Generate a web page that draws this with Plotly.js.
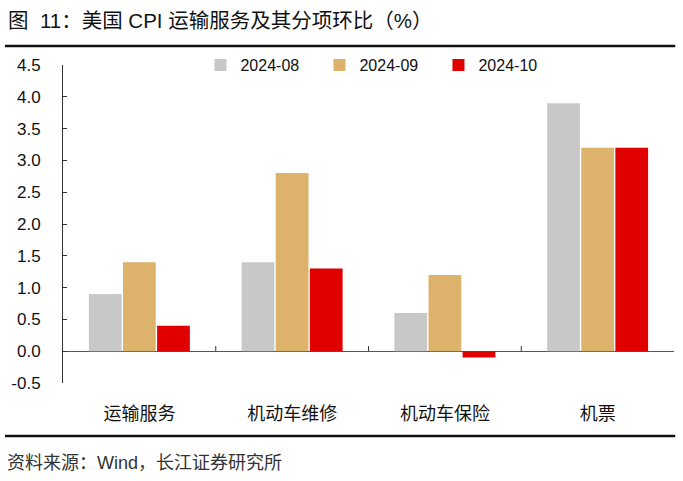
<!DOCTYPE html>
<html>
<head>
<meta charset="utf-8">
<script src="https://cdn.plot.ly/plotly-3.0.1.min.js"></script>
<style>html,body{margin:0;padding:0;background:#fff;}#chart{width:683px;height:481px;}</style>
</head>
<body>
<div id="chart"></div>
<script>
const categories = ['运输服务', '机动车维修', '机动车保险', '机票'];
const seriesNames = ['2024-08', '2024-09', '2024-10'];
const aug = [0.9, 1.4, 0.6, 3.9];
const sep = [1.4, 2.8, 1.2, 3.2];
const oct = [0.4, 1.3, -0.1, 3.2];
const yTicks = [-0.5, 0.0, 0.5, 1.0, 1.5, 2.0, 2.5, 3.0, 3.5, 4.0, 4.5];
const colors = ['#C8C8C8', '#DDB36B', '#E00000'];

const FONT = 'Liberation Sans, Arial, "Noto Sans CJK SC", sans-serif';
const CJK = '"Noto Sans CJK SC", sans-serif';

const traces = [aug, sep, oct].map((v, i) => ({
  type: 'bar', name: seriesNames[i], x: categories, y: v,
  marker: {color: colors[i]}
}));

const boundaryTicks = [0.5, 1.5, 2.5].map(b => ({
  type: 'line', xref: 'x', yref: 'y', x0: b, x1: b, y0: 0, y1: 0.08,
  line: {color: '#333', width: 1}
}));

const layout = {
  width: 683, height: 481,
  margin: {l: 63, r: 9, t: 65, b: 98, autoexpand: false},
  paper_bgcolor: '#fff', plot_bgcolor: '#fff',
  font: {family: FONT, size: 16, color: '#111'},
  barmode: 'group', bargap: 0.33, bargroupgap: 0.04,
  showlegend: true,
  legend: {orientation: 'h', x: 0.225, xanchor: 'left', y: 1.0, yanchor: 'middle',
           font: {family: FONT, size: 16, color: '#111'}, itemwidth: 30,
           entrywidth: 74, bgcolor: 'rgba(0,0,0,0)'},
  xaxis: {type: 'category', showgrid: false, showline: false, zeroline: false,
          ticks: '', tickfont: {family: CJK, size: 18, color: '#111'},
          ticklabelstandoff: 18, fixedrange: true},
  yaxis: {range: [-0.5, 4.5], tickvals: yTicks, ticktext: yTicks.map(v => v.toFixed(1)),
          showgrid: false, showline: true, linecolor: '#333', linewidth: 1,
          ticks: 'inside', ticklen: 4, tickcolor: '#333',
          zeroline: true, zerolinecolor: '#555', zerolinewidth: 1,
          tickfont: {family: FONT, size: 17, color: '#111'}, ticklabelstandoff: 18},
  shapes: [
    {type: 'line', xref: 'paper', yref: 'paper', x0: -0.095, x1: 1.002, y0: 1.06, y1: 1.06,
     line: {color: '#111', width: 2.5}},
    {type: 'line', xref: 'paper', yref: 'paper', x0: -0.095, x1: 1.002, y0: -0.167, y1: -0.167,
     line: {color: '#111', width: 2.5}},
    ...boundaryTicks
  ],
  annotations: [
    {xref: 'paper', yref: 'paper', x: -0.093, y: 1.14, xanchor: 'left', yanchor: 'middle',
     text: '图  11：美国 CPI 运输服务及其分项环比（%）', showarrow: false,
     font: {family: FONT, size: 20.5, color: '#111'}},
    {xref: 'paper', yref: 'paper', x: -0.095, y: -0.25, xanchor: 'left', yanchor: 'middle',
     text: '资料来源：Wind，长江证券研究所', showarrow: false,
     font: {family: FONT, size: 18, color: '#333'}}
  ]
};

Plotly.newPlot('chart', traces, layout, {displayModeBar: false, staticPlot: true});
</script>
</body>
</html>
